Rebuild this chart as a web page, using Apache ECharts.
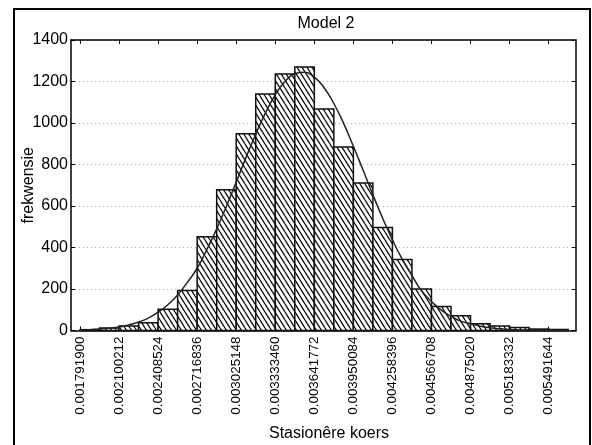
<!DOCTYPE html>
<html><head><meta charset="utf-8">
<script src="https://cdn.jsdelivr.net/npm/echarts@6/dist/echarts.min.js"></script>
<style>html,body{margin:0;padding:0;background:#fff}#c{width:592px;height:445px}</style>
</head><body><div id="c"></div>
<script>
const titleText = 'Model 2';
const xAxisName = 'Stasionêre koers';
const yAxisName = 'frekwensie';
// histogram bins: first bin edge and bin width (x units)
const binStart = 0.0017919;
const binWidth = 0.000154156;
const binCounts = [4,12,22,37,103,193,452,678,948,1140,1236,1270,1067,884,711,496,342,200,116,71,33,22,14,7,5];
// fitted curve at every half bin, starting at binStart
const curveY = [2,4,7,11,17,27,41,60,88,124,172,232,300,391,490,599,715,833,946,1049,1136,1200,1237,1244,1221,1170,1094,998,888,772,654,541,437,344,265,190,140,98,68,45,33,21,13,8,5,3,2,1,1,0,0];
const xTickLabels = ['0.001791900','0.002100212','0.002408524','0.002716836','0.003025148','0.003333460','0.003641772','0.003950084','0.004258396','0.004566708','0.004875020','0.005183332','0.005491644'];
const yTicks = [0,200,400,600,800,1000,1200,1400];

const FONT = "'Liberation Sans', Arial, Helvetica, sans-serif";
const xMin = 0.0017208, xMax = 0.0057077;
const xTickValues = xTickLabels.map(Number);

function hatch(){
  const w = 5, h = 8;
  const c = document.createElement('canvas'); c.width = w; c.height = h;
  const g = c.getContext('2d');
  g.fillStyle = '#fff'; g.fillRect(0,0,w,h);
  g.strokeStyle = '#111'; g.lineWidth = 1.35;
  g.beginPath();
  for (let i=-1;i<=1;i++){ g.moveTo(i*w,0); g.lineTo(i*w+w,h); }
  g.stroke();
  return c;
}
const pattern = {image: hatch(), repeat: 'repeat'};

const barData = binCounts.map((c,k)=>[binStart+k*binWidth, binStart+(k+1)*binWidth, c]);
const curveData = curveY.map((y,i)=>[binStart+i*binWidth/2, y]);

const chart = echarts.init(document.getElementById('c'), null, {renderer:'canvas'});
const tickLabelFmt = v => {
  let best = 0, d = Infinity;
  xTickValues.forEach((t,i)=>{ const e = Math.abs(t-v); if (e<d){d=e;best=i;} });
  return xTickLabels[best];
};
chart.setOption({
  backgroundColor: '#fff',
  animation: false,
  grid: {left: 71, right: 16, top: 40, bottom: 114.5},
  graphic: [
    {type:'rect', shape:{x:14, y:9, width:576, height:460}, style:{fill:'none', stroke:'#000', lineWidth:2}, silent:true},
    {type:'text', x:326, y:24, style:{text:titleText, fontSize:16, fontFamily:FONT, fill:'#000', align:'center', verticalAlign:'middle'}},
    {type:'text', x:329, y:434, style:{text:xAxisName, fontSize:16, fontFamily:FONT, fill:'#000', align:'center', verticalAlign:'middle'}}
  ],
  xAxis: [{
    type:'value', min:xMin, max:xMax, position:'bottom',
    axisLine:{show:true, lineStyle:{color:'#000', width:1.5}},
    axisTick:{show:true, inside:true, length:4, customValues:xTickValues, lineStyle:{color:'#000'}},
    axisLabel:{show:true, customValues:xTickValues, rotate:90, margin:6, fontSize:13.4, fontFamily:FONT, color:'#000', formatter:tickLabelFmt},
    splitLine:{show:false}
  },{
    type:'value', min:xMin, max:xMax, position:'top',
    axisLine:{show:true, onZero:false, lineStyle:{color:'#000', width:1.5}},
    axisTick:{show:true, inside:true, length:4, customValues:xTickValues, lineStyle:{color:'#000'}},
    axisLabel:{show:false},
    splitLine:{show:false}
  }],
  yAxis: [{
    type:'value', min:0, max:1400, interval:200, position:'left',
    name: yAxisName, nameLocation:'middle', nameGap:34, nameRotate:90, nameMoveOverlap:false,
    nameTextStyle:{fontSize:16, fontFamily:FONT, color:'#000'},
    axisLine:{show:true, lineStyle:{color:'#000', width:1.5}},
    axisTick:{show:true, inside:true, length:4, lineStyle:{color:'#000'}},
    axisLabel:{margin:3, fontSize:16, fontFamily:FONT, color:'#000', formatter: v => String(v)},
    splitLine:{show:true, lineStyle:{color:'#aaa', width:1, type:[1,3]}}
  },{
    type:'value', min:0, max:1400, interval:200, position:'right',
    axisLine:{show:true, lineStyle:{color:'#000', width:1.5}},
    axisTick:{show:true, inside:true, length:4, lineStyle:{color:'#000'}},
    axisLabel:{show:false},
    splitLine:{show:false}
  }],
  series: [{
    type:'custom', xAxisIndex:0, yAxisIndex:0,
    data: barData,
    encode: {x:[0,1], y:2},
    renderItem: (params, api) => {
      const p0 = api.coord([api.value(0), api.value(2)]);
      const p1 = api.coord([api.value(1), 0]);
      return {type:'rect', shape:{x:p0[0], y:p0[1], width:p1[0]-p0[0], height:p1[1]-p0[1]},
        style:{fill:pattern, stroke:'#111', lineWidth:1.5}};
    },
    z: 2
  },{
    type:'line', xAxisIndex:0, yAxisIndex:0,
    data: curveData, smooth:true, symbol:'none',
    lineStyle:{color:'#222', width:1.5}, z:3
  }]
});
</script></body></html>
